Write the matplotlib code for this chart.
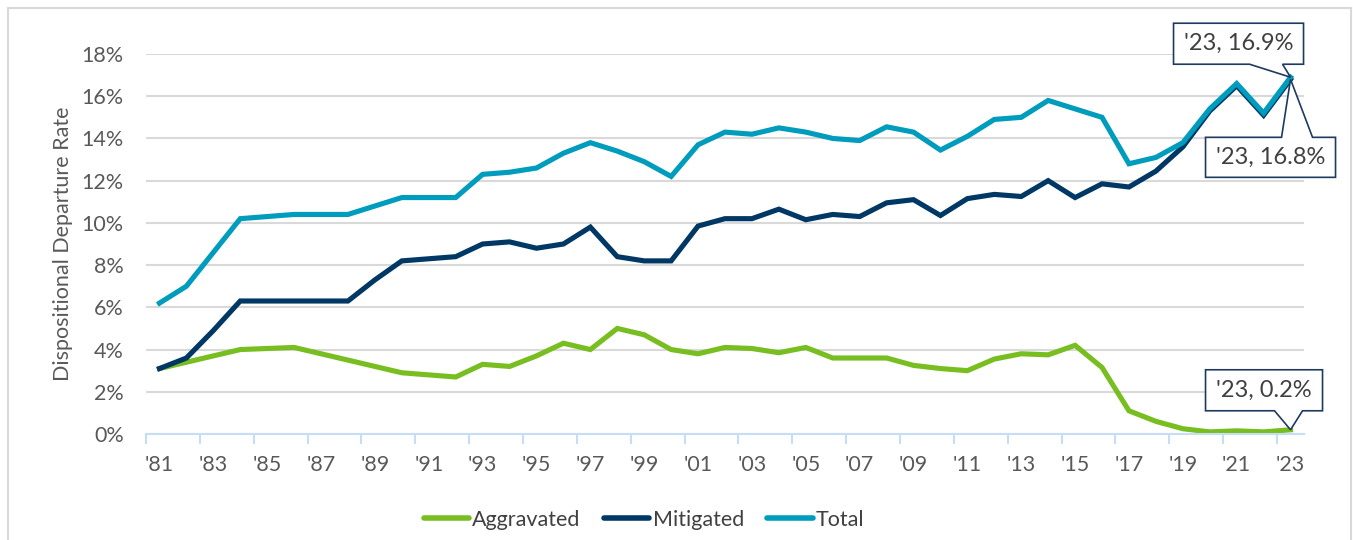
import matplotlib
matplotlib.use("Agg")
import matplotlib.pyplot as plt
import matplotlib.transforms as mtransforms
from matplotlib.patches import Polygon
from matplotlib.lines import Line2D

years = list(range(1981, 2024))
year_labels = ["'" + str(y)[2:] for y in years]

aggravated = [3.1, 3.4, 3.7, 4.0, 4.05, 4.1, 3.8, 3.5, 3.2, 2.9, 2.8, 2.7, 3.3, 3.2, 3.7,
              4.3, 4.0, 5.0, 4.7, 4.0, 3.8, 4.1, 4.05, 3.85, 4.1, 3.6, 3.6, 3.6, 3.25, 3.1,
              3.0, 3.55, 3.8, 3.75, 4.2, 3.15, 1.1, 0.6, 0.25, 0.1, 0.15, 0.1, 0.2]
mitigated = [3.1, 3.6, 4.9, 6.3, 6.3, 6.3, 6.3, 6.3, 7.3, 8.2, 8.3, 8.4, 9.0, 9.1, 8.8,
             9.0, 9.8, 8.4, 8.2, 8.2, 9.85, 10.2, 10.2, 10.65, 10.15, 10.4, 10.3, 10.95, 11.1, 10.35,
             11.15, 11.35, 11.25, 12.0, 11.2, 11.85, 11.7, 12.45, 13.6, 15.3, 16.5, 15.1, 16.8]
total = [6.2, 7.0, 8.6, 10.2, 10.3, 10.4, 10.4, 10.4, 10.8, 11.2, 11.2, 11.2, 12.3, 12.4, 12.6,
         13.3, 13.8, 13.4, 12.9, 12.2, 13.7, 14.3, 14.2, 14.5, 14.3, 14.0, 13.9, 14.55, 14.3, 13.45,
         14.1, 14.9, 15.0, 15.8, 15.4, 15.0, 12.8, 13.1, 13.8, 15.4, 16.6, 15.2, 16.9]

series_names = ["Aggravated", "Mitigated", "Total"]
colors = ["#78BE21", "#003865", "#009CBD"]

plt.rcParams['font.family'] = ['Lato', 'DejaVu Sans']
W, H = 1353, 540
fig = plt.figure(figsize=(W / 100, H / 100), dpi=100)
ax = fig.add_axes([146 / W, 1 - 434 / H, (1304 - 146) / W, (434 - 54) / H])

x = list(range(len(years)))
for vals, c, name in zip([aggravated, mitigated, total], colors, series_names):
    ax.plot(x, vals, color=c, lw=3.7, solid_joinstyle='miter', label=name, zorder=3)

ax.set_xlim(-0.5, len(years) - 0.5)
ax.set_ylim(0, 18)
ax.set_yticks(range(0, 19, 2))
ax.set_yticklabels([f"{v}%" for v in range(0, 19, 2)])
ax.yaxis.grid(True, color="#D9D9D9", lw=1.5, zorder=0)
ax.tick_params(axis='y', length=0, pad=16, labelsize=15.5, labelcolor="#595959")

ax.set_xticks([i - 0.5 for i in range(0, len(years), 2)])
ax.set_xticklabels([])
ax.set_xticks(list(range(0, len(years), 2)), minor=True)
ax.set_xticklabels(year_labels[::2], minor=True)
ax.tick_params(axis='x', which='major', length=7, width=1.5, color="#C5DDF5")
ax.tick_params(axis='x', which='minor', length=0, pad=15, labelsize=15.5, labelcolor="#595959")

for s in ['top', 'right', 'left']:
    ax.spines[s].set_visible(False)
ax.spines['bottom'].set_color("#C5DDF5")
ax.spines['bottom'].set_linewidth(1.5)
ax.spines['bottom'].set_zorder(4)

ax.set_ylabel("Dispositional Departure Rate", fontsize=15.5, color="#595959", labelpad=6)

leg = fig.legend(handles=[Line2D([], [], color=c, lw=4, solid_capstyle='round') for c in colors],
                 labels=series_names, loc='center', bbox_to_anchor=(644 / W, 1 - 520 / H),
                 ncol=3, frameon=False, fontsize=15.5, handlelength=2.1, handletextpad=0.15,
                 columnspacing=1.1)
for t in leg.get_texts():
    t.set_color("#404040")

# callouts
def callout(xi, yv, text, x0, x1, y0, y1, wa, wb, wedge_side):
    tr = mtransforms.IdentityTransform() + mtransforms.ScaledTranslation(xi, yv, ax.transData)
    if wedge_side == 'bottom':
        verts = [(x0, y0), (wa, y0), (0, 0), (wb, y0), (x1, y0), (x1, y1), (x0, y1)]
    else:
        verts = [(x0, y1), (wa, y1), (0, 0), (wb, y1), (x1, y1), (x1, y0), (x0, y0)]
    poly = Polygon(verts, closed=True, transform=tr, facecolor='white', edgecolor="#1F3A60",
                   lw=1.2, zorder=6, clip_on=False)
    ax.add_patch(poly)
    ax.annotate(text, xy=(xi, yv), xytext=((x0 + x1) / 2, (y0 + y1) / 2),
                textcoords='offset pixels', ha='center', va='center', fontsize=17,
                color="#404040", zorder=7, annotation_clip=False)

last = len(years) - 1
callout(last, total[-1], f"{year_labels[-1]}, {total[-1]}%", -117, 13, 13, 54, -41, -8, 'bottom')
callout(last, mitigated[-1], f"{year_labels[-1]}, {mitigated[-1]}%", -85, 45, -98, -58, -9, 22, 'top')
callout(last, aggravated[-1], f"{year_labels[-1]}, {aggravated[-1]}%", -85, 32, 19, 60, -16, 12, 'bottom')

# outer frame
fc = "#D9D9D9"
fig.add_artist(Line2D([8 / W, 8 / W], [0, 1 - 8 / H], color=fc, lw=1.5))
fig.add_artist(Line2D([8 / W, 1351 / W], [1 - 8 / H, 1 - 8 / H], color=fc, lw=1.5))
fig.add_artist(Line2D([1351 / W, 1351 / W], [0, 1 - 8 / H], color=fc, lw=1.5))

fig.savefig("out.png", dpi=100)
